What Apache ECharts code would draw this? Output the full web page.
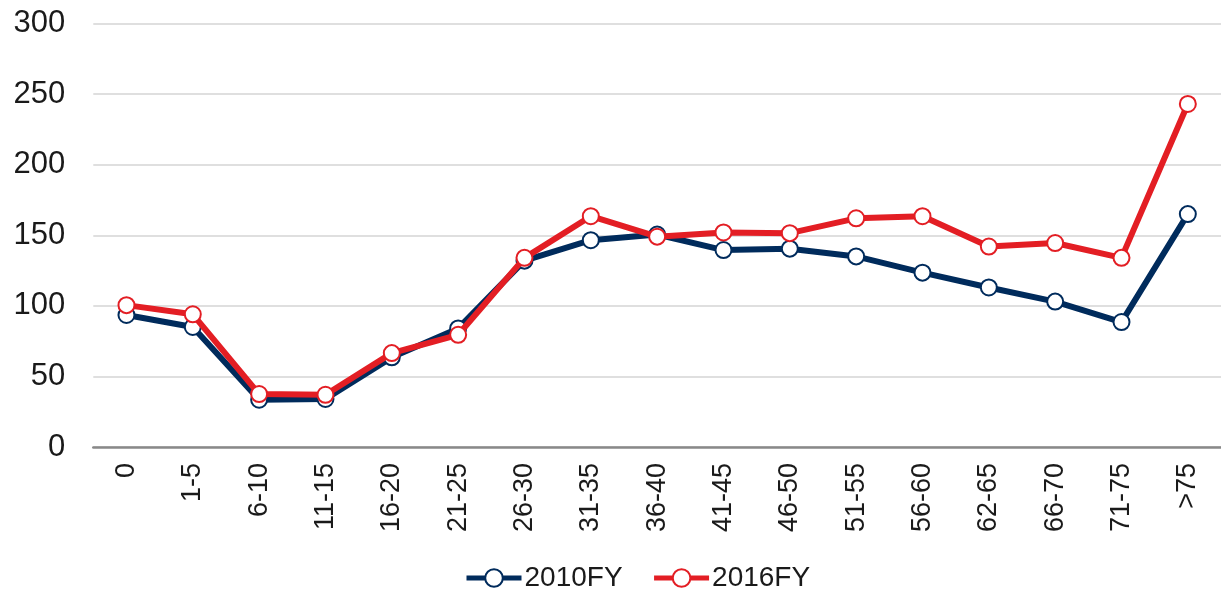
<!DOCTYPE html>
<html>
<head>
<meta charset="utf-8">
<script src="https://cdn.jsdelivr.net/npm/echarts@6/dist/echarts.min.js"></script>
<style>
  html, body { margin: 0; padding: 0; background: #fff; }
  #chart { width: 1221px; height: 591px; }
</style>
</head>
<body>
<div id="chart"></div>
<script>
const ageGroups = ['0', '1-5', '6-10', '11-15', '16-20', '21-25', '26-30', '31-35', '36-40',
  '41-45', '46-50', '51-55', '56-60', '62-65', '66-70', '71-75', '>75'];
const fy2010 = [93.5, 85, 33.5, 34, 63.5, 84, 132, 146.5, 150.5, 139.5, 140.5, 135, 123.5, 113, 103, 88.5, 165];
const fy2016 = [100.5, 94, 37.5, 37, 66.5, 79.5, 134, 163.5, 149, 152, 151.5, 162, 163.5, 142, 144.5, 134, 243];
const yTicks = { min: 0, max: 300, interval: 50 };

const fontFamily = 'Liberation Sans, Arial, sans-serif';
const navy = '#002b5c';
const red = '#e31e24';

function lineSeries(name, data, color) {
  return {
    name: name,
    type: 'line',
    data: data,
    symbol: 'circle',
    symbolSize: 16,
    lineStyle: { color: color, width: 6 },
    itemStyle: { color: '#fff', borderColor: color, borderWidth: 2 },
    emphasis: { disabled: true },
    z: name === '2016FY' ? 3 : 2
  };
}

const chart = echarts.init(document.getElementById('chart'));
chart.setOption({
  animation: false,
  textStyle: { fontFamily: fontFamily },
  grid: { left: 93.3, right: -5.7, top: 23.5, bottom: 144, containLabel: false },
  legend: {
    data: ['2010FY', '2016FY'],
    left: 459,
    top: 559,
    itemWidth: 55,
    itemHeight: 22,
    itemGap: 29,
    lineStyle: { width: 5 },
    textStyle: { fontSize: 28, color: '#1a1a1a', fontFamily: fontFamily, padding: [0, 0, 0, -2] }
  },
  xAxis: {
    type: 'category',
    data: ageGroups,
    boundaryGap: true,
    axisLine: { lineStyle: { color: '#898989', width: 2.5 } },
    axisTick: { show: false },
    axisLabel: {
      rotate: 90,
      interval: 0,
      margin: 16,
      fontSize: 27,
      color: '#1a1a1a',
      fontFamily: fontFamily
    }
  },
  yAxis: {
    type: 'value',
    min: yTicks.min,
    max: yTicks.max,
    interval: yTicks.interval,
    axisLine: { show: false },
    axisTick: { show: false },
    splitLine: { lineStyle: { color: '#d4d4d4', width: 1.5 } },
    axisLabel: { fontSize: 31, color: '#1a1a1a', margin: 28, fontFamily: fontFamily }
  },
  series: [
    lineSeries('2010FY', fy2010, navy),
    lineSeries('2016FY', fy2016, red)
  ]
});
</script>
</body>
</html>
